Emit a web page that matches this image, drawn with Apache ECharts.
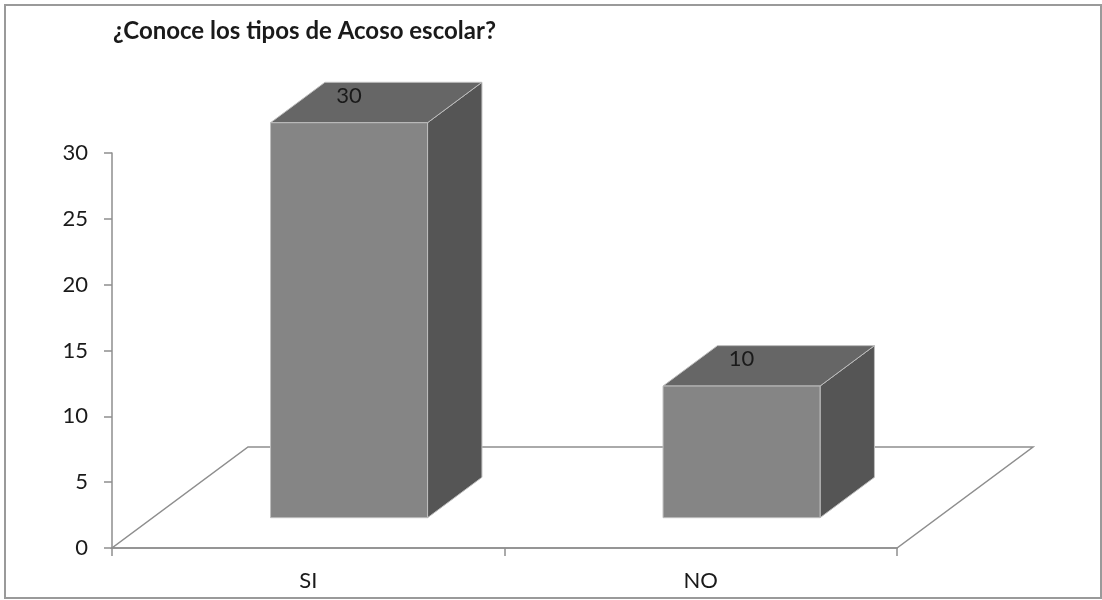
<!DOCTYPE html>
<html>
<head>
<meta charset="utf-8">
<script src="https://cdn.jsdelivr.net/npm/echarts@6/dist/echarts.min.js"></script>
<style>
  html, body { margin: 0; padding: 0; background: #ffffff; }
  #chart { width: 1102px; height: 600px; }
</style>
</head>
<body>
<div id="chart"></div>
<script>
// Survey answers
const chartTitle = '¿Conoce los tipos de Acoso escolar?';
const categories = ['SI', 'NO'];
const values = [30, 10];
const yMin = 0;
const yMax = 30;
const yStep = 5;

// Oblique projection of the depth axis (pixels for the full floor depth)
const DEPTH_X = 136;
const DEPTH_Y = 101;
// Bars occupy this slice of the floor depth, and this share of the category band
const BAR_FRONT = 0.3;
const BAR_BACK = 0.7;
const BAR_WIDTH = 0.4;

const FONT = 'Lato, "Open Sans", sans-serif';
const AXIS_COLOR = '#8e8e8e';

const chart = echarts.init(document.getElementById('chart'), null, { renderer: 'canvas' });

function renderFloor(params, api) {
  const cs = params.coordSys;
  const x0 = cs.x, x1 = cs.x + cs.width, y0 = cs.y + cs.height;
  return {
    type: 'polygon',
    shape: {
      points: [
        [x0, y0], [x1, y0],
        [x1 + DEPTH_X, y0 - DEPTH_Y], [x0 + DEPTH_X, y0 - DEPTH_Y]
      ]
    },
    style: { fill: 'none', stroke: AXIS_COLOR, lineWidth: 1.5 },
    silent: true
  };
}

function renderBar(params, api) {
  const idx = api.value(0);
  const val = api.value(1);
  const base = api.coord([idx, yMin]);
  const top = api.coord([idx, val]);
  const band = api.size([1, 0])[0];
  const w = band * BAR_WIDTH;

  const fx = base[0] - w / 2 + BAR_FRONT * DEPTH_X;
  const fyB = base[1] - BAR_FRONT * DEPTH_Y;
  const fyT = top[1] - BAR_FRONT * DEPTH_Y;
  const dx = (BAR_BACK - BAR_FRONT) * DEPTH_X;
  const dy = (BAR_BACK - BAR_FRONT) * DEPTH_Y;
  const edge = { stroke: '#bdbdbd', lineWidth: 1, lineJoin: 'miter' };

  return {
    type: 'group',
    children: [
      { // right side
        type: 'polygon',
        shape: { points: [[fx + w, fyT], [fx + w + dx, fyT - dy], [fx + w + dx, fyB - dy], [fx + w, fyB]] },
        style: Object.assign({ fill: '#555555' }, edge)
      },
      { // top
        type: 'polygon',
        shape: { points: [[fx, fyT], [fx + dx, fyT - dy], [fx + w + dx, fyT - dy], [fx + w, fyT]] },
        style: Object.assign({ fill: '#666666' }, edge)
      },
      { // front
        type: 'rect',
        shape: { x: fx, y: fyT, width: w, height: fyB - fyT },
        style: Object.assign({ fill: '#858585' }, edge)
      },
      { // value label
        type: 'text',
        style: {
          text: String(val),
          x: fx + w / 2,
          y: fyT - 27,
          align: 'center',
          verticalAlign: 'middle',
          font: '22px ' + FONT,
          fill: '#1a1a1a'
        }
      }
    ]
  };
}

chart.setOption({
  animation: false,
  backgroundColor: '#ffffff',
  title: {
    text: chartTitle,
    left: 108,
    top: 14,
    textStyle: { fontFamily: FONT, fontWeight: 'bold', fontSize: 24, color: '#1a1a1a' }
  },
  graphic: [{
    type: 'rect',
    shape: { x: 5, y: 5, width: 1096, height: 593 },
    style: { fill: 'none', stroke: '#9a9a9a', lineWidth: 2 },
    silent: true,
    z: -10
  }],
  grid: { left: 112, right: 205, top: 153, bottom: 52 },
  xAxis: {
    type: 'category',
    data: categories,
    boundaryGap: true,
    axisLine: { show: true, lineStyle: { color: AXIS_COLOR, width: 1.5 } },
    axisTick: { show: true, length: 8, lineStyle: { color: AXIS_COLOR, width: 1.5 } },
    axisLabel: { margin: 22, fontFamily: FONT, fontSize: 22, color: '#1a1a1a' },
    splitLine: { show: false }
  },
  yAxis: {
    type: 'value',
    min: yMin,
    max: yMax,
    interval: yStep,
    axisLine: { show: true, lineStyle: { color: AXIS_COLOR, width: 1.5 } },
    axisTick: { show: true, length: 8, lineStyle: { color: AXIS_COLOR, width: 1.5 } },
    axisLabel: { margin: 24, fontFamily: FONT, fontSize: 22, color: '#1a1a1a' },
    splitLine: { show: false }
  },
  series: [
    {
      type: 'custom',
      name: 'floor',
      renderItem: renderFloor,
      data: [[0, 0]],
      z: 1,
      silent: true
    },
    {
      type: 'custom',
      name: 'Respuestas',
      renderItem: renderBar,
      encode: { x: 0, y: 1 },
      data: categories.map((c, i) => [i, values[i]]),
      z: 3
    }
  ]
});
</script>
</body>
</html>
